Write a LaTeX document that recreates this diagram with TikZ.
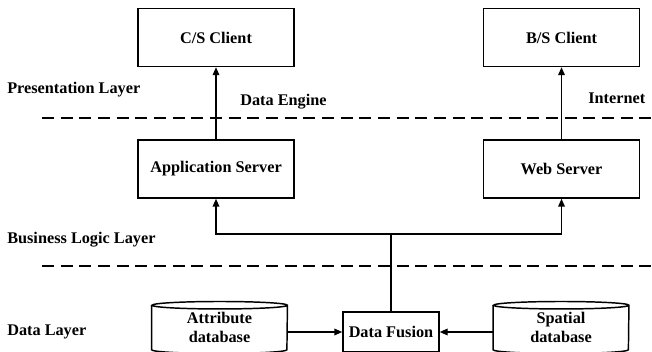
\documentclass[tikz,border=0pt]{standalone}
\usepackage{fontspec}
\setmainfont{Liberation Serif}
\usetikzlibrary{positioning, arrows.meta, calc}

\begin{document}
\begin{tikzpicture}[
  x=0.75pt, y=-0.75pt,
  font=\fontsize{12.2}{13}\selectfont\bfseries,
  lbl/.style={anchor=west, inner sep=0pt},
  box/.style={draw, line width=1.1pt, minimum width=117pt, minimum height=43.5pt,
              inner sep=0pt},
  dbtext/.style={minimum width=101.5pt, minimum height=33pt, inner sep=0pt,
                 align=center, font=\fontsize{12.2}{14.5}\selectfont\bfseries},
  layer/.style={line width=1.1pt, dash pattern=on 9pt off 5pt},
  arr/.style={-{Triangle[length=6pt, width=5pt]}, line width=1.1pt},
]
\useasboundingbox (0,0) rectangle (652,352);
\clip (0,0) rectangle (652,352);

% ─── layer separators ───────────────────────────────────────────────────────
\draw[layer] (42,118) -- (652,118);
\draw[layer] (42,266) -- (652,266);

\node[lbl] (lpres) at (7,90)  {Presentation Layer};
\node[lbl] (lbus)  at (7,240) {Business Logic Layer};
\node[lbl] (ldata) at (7,332) {Data Layer};

% ─── clients and servers ────────────────────────────────────────────────────
\node[box] (cs)  at (216,37.5)  {C/S Client};
\node[box] (bs)  at (561.5,37.5) {B/S Client};
\node[box] (app) at (216,169)   {Application Server};
\node[box] (web) at (561.5,169) {Web Server};

\draw[arr] (app.north) -- (cs.south);
\draw[arr] (web.north) -- (bs.south);
\node[lbl] (engine) at (240,102) {Data Engine};
\node[lbl] (inet)   at (588,98)  {Internet};

% ─── data layer: two databases feed the fusion box ──────────────────────────
\node[box, minimum width=72pt, minimum height=30pt] (fusion) at (391,332)
      {Data Fusion};
\node[dbtext] (attr)  at (219.5,327.5) {Attribute\\database};
\node[dbtext] (spat)  at (561,327.5)   {Spatial\\database};

% cylinder outlines round the database labels
\foreach \db in {attr, spat}
  \draw[line width=1.1pt] (\db.north west) -- (\db.south west)
        arc[start angle=180, end angle=360, x radius=50.75pt, y radius=2.8pt]
        -- (\db.north east)
        arc[start angle=0, end angle=360, x radius=50.75pt, y radius=2.8pt];

\draw[arr] (attr.east |- fusion.west) -- (fusion.west);
\draw[arr] (spat.west |- fusion.east) -- (fusion.east);

% ─── fusion output up to both servers ───────────────────────────────────────
\coordinate (fork) at (391,234);
\draw[arr] (fusion.north) -- (fork) -| (app.south);
\draw[arr] (fork) -| (web.south);

\end{tikzpicture}
\end{document}
